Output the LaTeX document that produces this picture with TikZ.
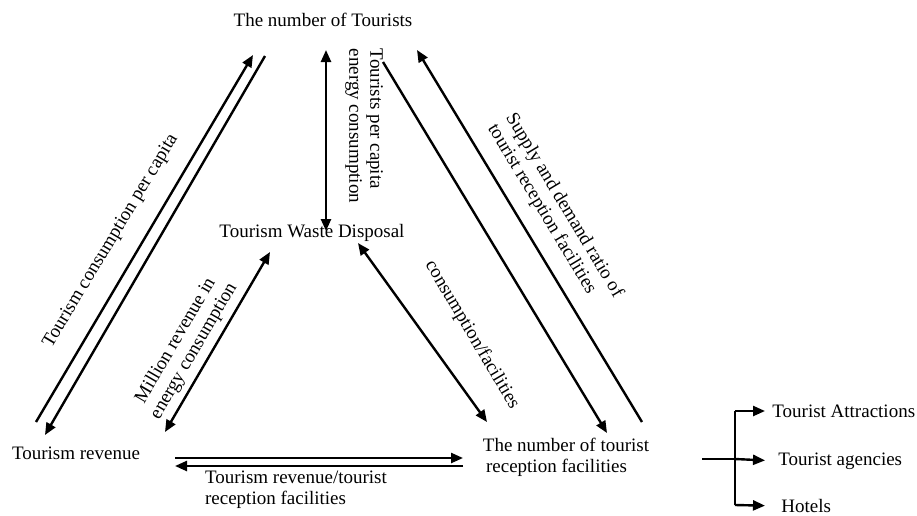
\documentclass[tikz,border=0pt]{standalone}
\usepackage{fontspec}
\setmainfont{Liberation Serif}
\usetikzlibrary{arrows.meta, positioning, calc}

\begin{document}
\begin{tikzpicture}[x=0.5pt, y=-0.5pt,
	every node/.style={font=\fontsize{9.5}{10.5}\selectfont, inner sep=0pt},
	link/.style={line width=1.2pt, -{Triangle[length=6pt,width=5pt]}},
	twoway/.style={line width=1.2pt, {Triangle[length=6pt,width=5pt]}-{Triangle[length=6pt,width=5pt]}},
	lbl/.style={align=center}]
	\useasboundingbox (0,0) rectangle (917,515);

	% Define nodes
	\node (tourists) at (323,20) {The number of Tourists};
	\node (waste) at (312,233) {Tourism Waste Disposal};
	\node (revenue) at (76,453) {Tourism revenue};
	\node (facilities) [align=left] at (566,457) {The number of tourist\\ \,reception facilities};

	% Arrow ends
	\coordinate (revUp) at (36,422);    \coordinate (touLeftIn) at (253,55);
	\coordinate (touLeftOut) at (265,56); \coordinate (revIn) at (45,435);
	\coordinate (touMid) at (326,50);   \coordinate (wasteTop) at (326,231);
	\coordinate (wasteLeft) at (270,252); \coordinate (revRight) at (165,432);
	\coordinate (wasteRight) at (358,243); \coordinate (facLeft) at (487,422);
	\coordinate (touRightOut) at (383,62); \coordinate (facIn) at (607,433);
	\coordinate (facOut) at (642,422);  \coordinate (touRightIn) at (417,50);
	\coordinate (revOut) at (175,458);  \coordinate (facBotIn) at (463,458);
	\coordinate (facBotOut) at (463,466); \coordinate (revBotIn) at (175,466);

	% Left pair
	\draw[link] (revUp) -- (touLeftIn);
	\draw[link] (touLeftOut) -- (revIn);
	\node[lbl, rotate=59] (consCap) at (111,241) {Tourism consumption per capita};

	% Middle
	\draw[twoway] (touMid) -- (wasteTop);
	\node[align=left, rotate=-90] (perCap) at (364,126) {Tourists per capita\\energy consumption};
	\draw[twoway] (wasteLeft) -- (revRight);
	\node[lbl, rotate=59.7] (million) at (185,346) {Million revenue in\\energy consumption};
	\draw[twoway] (wasteRight) -- (facLeft);
	\node[lbl, rotate=-59.4] (consFac) at (472,335) {consumption/facilities};

	% Right pair
	\draw[link] (touRightOut) -- (facIn);
	\draw[link] (facOut) -- (touRightIn);
	\node[align=left, rotate=-59] (supply) at (555,211) {Supply and demand ratio of\\tourist reception facilities};

	% Bottom pair
	\draw[link] (revOut) -- (facBotIn);
	\draw[link] (facBotOut) -- (revBotIn);
	\node[align=left] (revFac) at (296,490) {Tourism revenue/tourist\\ reception facilities};

	% Branch on the right
	\coordinate (split) at (702,459);
	\coordinate (fork) at (735,459);
	\node[anchor=west] (attractions) at (772,411) {Tourist Attractions};
	\node[anchor=west] (agencies) at (778,461) {Tourist agencies};
	\node[anchor=west] (hotels) at (781,506) {Hotels};
	\draw[line width=1.2pt] (split) -- (fork);
	\draw[line width=1.2pt] (735,411) -- (735,505);
	\draw[link, shorten >=3.5pt] (735,411) -- (attractions.west);
	\draw[link, shorten >=6.5pt] (fork) -- (agencies.west);
	\draw[link, shorten >=8pt] (735,505) -- (hotels.west);
\end{tikzpicture}
\end{document}
